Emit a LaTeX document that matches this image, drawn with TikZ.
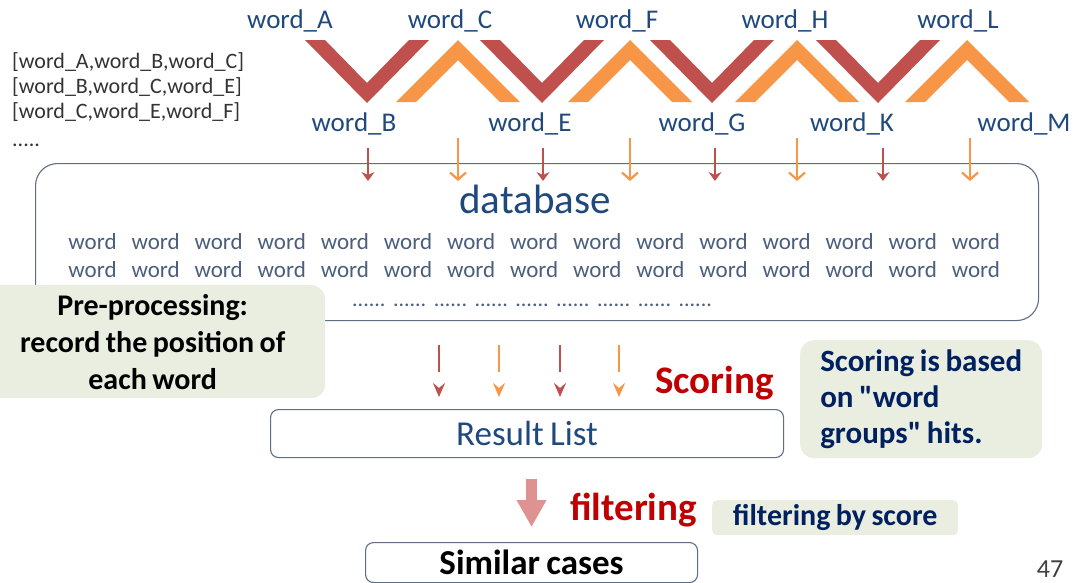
\documentclass[tikz,border=0pt]{standalone}
\usepackage{fontspec}
\setmainfont{Carlito}[WordSpace=0.8]
\usetikzlibrary{arrows.meta,positioning}
\definecolor{chevred}{RGB}{192,80,77}
\definecolor{chevorange}{RGB}{247,150,70}
\definecolor{wordblue}{RGB}{31,73,125}
\definecolor{rowgrey}{RGB}{75,95,125}
\definecolor{scorenavy}{RGB}{0,32,96}
\definecolor{scorered}{RGB}{192,0,0}
\definecolor{boxline}{RGB}{95,110,135}
\definecolor{notegreen}{RGB}{234,238,224}
\definecolor{filterpink}{RGB}{222,146,146}
\newcommand{\fsz}[2]{\fontsize{#1}{#2}\selectfont}
\tikzset{
  base/.style={font=\fsz{27}{32}, inner sep=0pt, text=wordblue},
  lbl/.style={base, anchor=base},
  listtxt/.style={base, font=\fsz{22}{25}, text=black!80, anchor=base west},
  dbword/.style={base, font=\fsz{23}{28}, text=rowgrey, anchor=base},
  dots/.style={base, font=\fsz{22}{26}, text=rowgrey, anchor=base west},
  frame/.style={rectangle, draw=boxline, line width=1.1pt, rounded corners=8pt, fill=white, inner sep=0pt},
  note/.style={rectangle, fill=notegreen, rounded corners=14pt, inner sep=0pt, text=scorenavy},
  bigred/.style={base, font=\bfseries\fsz{39}{44}, text=scorered, anchor=base west},
  arrred/.style={draw=chevred, line width=2.5pt, -{Stealth[length=9pt,width=13pt,inset=3pt]}},
  arrorange/.style={draw=chevorange, line width=2.2pt, -{Straight Barb[length=7pt,width=16pt]}},
  hitred/.style={draw=chevred, line width=2.5pt, dash pattern=on 27pt off 80pt, shorten >=12pt,
    -{Stealth[length=14pt,width=12pt,inset=5pt]}},
  hitorange/.style={hitred, draw=chevorange},
  filt/.style={draw=filterpink, line width=11pt, shorten <=21pt, shorten >=15pt,
    -{Triangle[length=27pt,width=28pt]}},
}
\begin{document}
\begin{tikzpicture}[x=1pt,y=-1pt]
  \useasboundingbox (0,0) rectangle (1077,582);
  \fill[white] (0,0) rectangle (1077,582);
  % word chain
  \foreach \x in {367,542,712,878}{
    \fill[chevred] (\x-62,40) -- (\x-42,40) -- (\x,83) -- (\x+42,40) -- (\x+62,40) -- (\x,103) -- cycle;
  }
  \foreach \x in {458,630,797,967}{
    \fill[chevorange] (\x-62,102) -- (\x,40) -- (\x+62,102) -- (\x+42,102) -- (\x,60) -- (\x-42,102) -- cycle;
  }
  \foreach \w/\x in {A/290,C/450,F/617,H/785,L/958}{\node[lbl] (top\w) at (\x,28) {word\_\w};}
  \foreach \w/\x in {B/354,E/530,G/702,K/852,M/1024}{\node[lbl] (bot\w) at (\x,131) {word\_\w};}
  % word groups
  \node[listtxt] (grp1) at (12,68) {[word\_A,word\_B,word\_C]};
  \node[listtxt] (grp2) at (12,93) {[word\_B,word\_C,word\_E]};
  \node[listtxt] (grp3) at (12,118) {[word\_C,word\_E,word\_F]};
  \node[listtxt] (grpmore) at (12,146) {.....};
  % database
  \node[frame, rounded corners=22pt, anchor=north west, minimum width=1003pt, minimum height=157pt] (db) at (35,163) {};
  \node[base, font=\fsz{41}{48}, anchor=base] (dbtitle) at (535,213) {database};
  \foreach \r/\y in {1/249,2/277}{
    \foreach \i in {0,...,14}{\node[dbword] (w\r-\i) at (92.5+\i*63.1,\y) {word};}
  }
  \foreach \i in {0,...,8}{\node[dots] (dot\i) at (352+\i*40.8,306) {......};}
  \node[note, text=black, align=center, anchor=north west, minimum width=345pt, minimum height=113pt,
    font=\bfseries\fsz{30}{37}] (prep) at (-20,285) {Pre-processing:\\record the position of\\each word};
  \foreach \x [count=\i] in {368,543,715,883}{
    \coordinate (rin\i) at (\x,148);
    \coordinate (rout\i) at (\x,181);
    \draw[arrred] (rin\i) -- (rout\i);
  }
  \foreach \x [count=\i] in {458,630,797,970}{
    \coordinate (oin\i) at (\x,138);
    \coordinate (oout\i) at (\x,181);
    \draw[arrorange] (oin\i) -- (oout\i);
  }
  % scoring
  \node[frame, anchor=north west, minimum width=513pt, minimum height=48pt, font=\fsz{35}{40}, text=wordblue] (res) at (270,409) {Result List};
  \foreach \x/\c [count=\i] in {439/hitred,499/hitorange,560/hitred,619/hitorange}{
    \coordinate (hit\i) at (\x,345);
    \draw[\c] (hit\i) -- (hit\i |- res.north);
  }
  \node[bigred] (scoring) at (655,393) {Scoring};
  \node[note, align=left, anchor=north west, minimum width=242pt, minimum height=118pt,
    font=\bfseries\fsz{31}{36}] (scorenote) at (800,340) {Scoring is based\\on \textquotedbl word\\groups\textquotedbl\ hits.};
  % filtering
  \node[frame, anchor=north west, minimum width=332pt, minimum height=40pt, font=\bfseries\fsz{35}{40}, text=black] (sim) at (365,542) {Similar cases};
  \draw[filt] (res.south -| sim.north) -- (sim.north);
  \node[bigred] (filtering) at (570,520) {filtering};
  \node[note, rounded corners=5pt, anchor=north west, minimum width=246pt, minimum height=35pt,
    font=\bfseries\fsz{30}{34}] (filtnote) at (712,500) {filtering by score};
  \node[base, anchor=base, text=black!75, font=\fsz{26}{30}] (pagenum) at (1050,577) {47};
\end{tikzpicture}
\end{document}
